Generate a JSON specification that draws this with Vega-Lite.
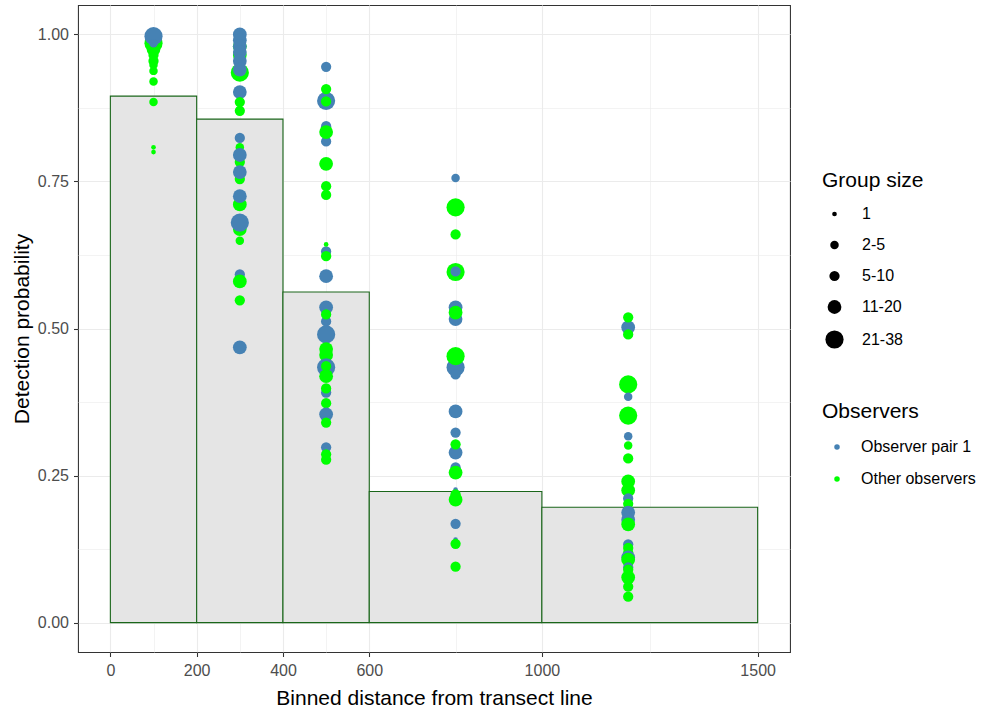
{
  "$schema": "https://vega.github.io/schema/vega-lite/v6.json",
  "width": 712,
  "height": 647,
  "autosize": "none",
  "padding": {"left": 78, "top": 5, "right": 197, "bottom": 61},
  "background": "white",
  "config": {
    "view": {"stroke": "#333333", "strokeWidth": 1.07},
    "font": "Liberation Sans"
  },
  "datasets": {
    "bins": [
      {"lo": 0, "hi": 200, "p": 0.895},
      {"lo": 200, "hi": 400, "p": 0.856},
      {"lo": 400, "hi": 600, "p": 0.562},
      {"lo": 600, "hi": 1000, "p": 0.223},
      {"lo": 1000, "hi": 1500, "p": 0.196}
    ],
    "pts": [
      {"d": 100, "p": 0.985, "obs": "Other observers", "g": "21-38"},
      {"d": 100, "p": 0.975, "obs": "Other observers", "g": "11-20"},
      {"d": 100, "p": 0.965, "obs": "Other observers", "g": "5-10"},
      {"d": 100, "p": 0.955, "obs": "Other observers", "g": "5-10"},
      {"d": 100, "p": 0.948, "obs": "Other observers", "g": "2-5"},
      {"d": 100, "p": 0.938, "obs": "Other observers", "g": "2-5"},
      {"d": 100, "p": 0.92, "obs": "Other observers", "g": "2-5"},
      {"d": 100, "p": 0.885, "obs": "Other observers", "g": "2-5"},
      {"d": 100, "p": 0.808, "obs": "Other observers", "g": "1"},
      {"d": 100, "p": 0.8, "obs": "Other observers", "g": "1"},
      {"d": 100, "p": 0.997, "obs": "Observer pair 1", "g": "21-38"},
      {"d": 100, "p": 0.985, "obs": "Observer pair 1", "g": "2-5"},

      {"d": 300, "p": 0.98, "obs": "Other observers", "g": "11-20"},
      {"d": 300, "p": 0.965, "obs": "Other observers", "g": "11-20"},
      {"d": 300, "p": 0.935, "obs": "Other observers", "g": "21-38"},
      {"d": 300, "p": 1.0, "obs": "Observer pair 1", "g": "11-20"},
      {"d": 300, "p": 0.99, "obs": "Observer pair 1", "g": "11-20"},
      {"d": 300, "p": 0.98, "obs": "Observer pair 1", "g": "11-20"},
      {"d": 300, "p": 0.97, "obs": "Observer pair 1", "g": "11-20"},
      {"d": 300, "p": 0.955, "obs": "Observer pair 1", "g": "11-20"},
      {"d": 300, "p": 0.94, "obs": "Observer pair 1", "g": "11-20"},
      {"d": 300, "p": 0.902, "obs": "Observer pair 1", "g": "11-20"},
      {"d": 300, "p": 0.885, "obs": "Other observers", "g": "5-10"},
      {"d": 300, "p": 0.87, "obs": "Other observers", "g": "5-10"},
      {"d": 300, "p": 0.808, "obs": "Other observers", "g": "2-5"},
      {"d": 300, "p": 0.824, "obs": "Observer pair 1", "g": "5-10"},
      {"d": 300, "p": 0.783, "obs": "Other observers", "g": "5-10"},
      {"d": 300, "p": 0.795, "obs": "Observer pair 1", "g": "11-20"},
      {"d": 300, "p": 0.754, "obs": "Other observers", "g": "5-10"},
      {"d": 300, "p": 0.766, "obs": "Observer pair 1", "g": "11-20"},
      {"d": 300, "p": 0.711, "obs": "Other observers", "g": "11-20"},
      {"d": 300, "p": 0.725, "obs": "Observer pair 1", "g": "11-20"},
      {"d": 300, "p": 0.669, "obs": "Other observers", "g": "11-20"},
      {"d": 300, "p": 0.68, "obs": "Observer pair 1", "g": "21-38"},
      {"d": 300, "p": 0.649, "obs": "Other observers", "g": "2-5"},
      {"d": 300, "p": 0.592, "obs": "Observer pair 1", "g": "5-10"},
      {"d": 300, "p": 0.58, "obs": "Other observers", "g": "11-20"},
      {"d": 300, "p": 0.548, "obs": "Other observers", "g": "5-10"},
      {"d": 300, "p": 0.468, "obs": "Observer pair 1", "g": "11-20"},

      {"d": 500, "p": 0.945, "obs": "Observer pair 1", "g": "5-10"},
      {"d": 500, "p": 0.887, "obs": "Observer pair 1", "g": "21-38"},
      {"d": 500, "p": 0.907, "obs": "Other observers", "g": "5-10"},
      {"d": 500, "p": 0.886, "obs": "Other observers", "g": "5-10"},
      {"d": 500, "p": 0.844, "obs": "Observer pair 1", "g": "5-10"},
      {"d": 500, "p": 0.818, "obs": "Observer pair 1", "g": "5-10"},
      {"d": 500, "p": 0.834, "obs": "Other observers", "g": "11-20"},
      {"d": 500, "p": 0.78, "obs": "Other observers", "g": "11-20"},
      {"d": 500, "p": 0.742, "obs": "Other observers", "g": "5-10"},
      {"d": 500, "p": 0.727, "obs": "Other observers", "g": "5-10"},
      {"d": 500, "p": 0.631, "obs": "Observer pair 1", "g": "5-10"},
      {"d": 500, "p": 0.643, "obs": "Other observers", "g": "1"},
      {"d": 500, "p": 0.623, "obs": "Other observers", "g": "5-10"},
      {"d": 500, "p": 0.589, "obs": "Observer pair 1", "g": "11-20"},
      {"d": 500, "p": 0.536, "obs": "Observer pair 1", "g": "11-20"},
      {"d": 500, "p": 0.512, "obs": "Observer pair 1", "g": "5-10"},
      {"d": 500, "p": 0.49, "obs": "Observer pair 1", "g": "21-38"},
      {"d": 500, "p": 0.524, "obs": "Other observers", "g": "5-10"},
      {"d": 500, "p": 0.465, "obs": "Other observers", "g": "11-20"},
      {"d": 500, "p": 0.455, "obs": "Other observers", "g": "11-20"},
      {"d": 500, "p": 0.434, "obs": "Observer pair 1", "g": "21-38"},
      {"d": 500, "p": 0.436, "obs": "Other observers", "g": "5-10"},
      {"d": 500, "p": 0.419, "obs": "Other observers", "g": "11-20"},
      {"d": 500, "p": 0.391, "obs": "Observer pair 1", "g": "5-10"},
      {"d": 500, "p": 0.398, "obs": "Other observers", "g": "5-10"},
      {"d": 500, "p": 0.373, "obs": "Other observers", "g": "5-10"},
      {"d": 500, "p": 0.354, "obs": "Observer pair 1", "g": "11-20"},
      {"d": 500, "p": 0.34, "obs": "Other observers", "g": "5-10"},
      {"d": 500, "p": 0.298, "obs": "Observer pair 1", "g": "5-10"},
      {"d": 500, "p": 0.286, "obs": "Other observers", "g": "5-10"},
      {"d": 500, "p": 0.277, "obs": "Other observers", "g": "5-10"},

      {"d": 800, "p": 0.756, "obs": "Observer pair 1", "g": "2-5"},
      {"d": 800, "p": 0.706, "obs": "Other observers", "g": "21-38"},
      {"d": 800, "p": 0.66, "obs": "Other observers", "g": "5-10"},
      {"d": 800, "p": 0.596, "obs": "Other observers", "g": "21-38"},
      {"d": 800, "p": 0.597, "obs": "Observer pair 1", "g": "5-10"},
      {"d": 800, "p": 0.536, "obs": "Observer pair 1", "g": "11-20"},
      {"d": 800, "p": 0.516, "obs": "Observer pair 1", "g": "11-20"},
      {"d": 800, "p": 0.527, "obs": "Other observers", "g": "11-20"},
      {"d": 800, "p": 0.434, "obs": "Observer pair 1", "g": "21-38"},
      {"d": 800, "p": 0.422, "obs": "Observer pair 1", "g": "5-10"},
      {"d": 800, "p": 0.453, "obs": "Other observers", "g": "21-38"},
      {"d": 800, "p": 0.359, "obs": "Observer pair 1", "g": "11-20"},
      {"d": 800, "p": 0.323, "obs": "Observer pair 1", "g": "5-10"},
      {"d": 800, "p": 0.289, "obs": "Observer pair 1", "g": "11-20"},
      {"d": 800, "p": 0.303, "obs": "Other observers", "g": "5-10"},
      {"d": 800, "p": 0.264, "obs": "Observer pair 1", "g": "5-10"},
      {"d": 800, "p": 0.255, "obs": "Other observers", "g": "11-20"},
      {"d": 800, "p": 0.226, "obs": "Observer pair 1", "g": "1"},
      {"d": 800, "p": 0.209, "obs": "Other observers", "g": "11-20"},
      {"d": 800, "p": 0.218, "obs": "Other observers", "g": "5-10"},
      {"d": 800, "p": 0.168, "obs": "Observer pair 1", "g": "5-10"},
      {"d": 800, "p": 0.141, "obs": "Observer pair 1", "g": "1"},
      {"d": 800, "p": 0.134, "obs": "Other observers", "g": "5-10"},
      {"d": 800, "p": 0.095, "obs": "Other observers", "g": "5-10"},

      {"d": 1200, "p": 0.502, "obs": "Observer pair 1", "g": "11-20"},
      {"d": 1200, "p": 0.519, "obs": "Other observers", "g": "5-10"},
      {"d": 1200, "p": 0.49, "obs": "Other observers", "g": "5-10"},
      {"d": 1200, "p": 0.405, "obs": "Other observers", "g": "21-38"},
      {"d": 1200, "p": 0.384, "obs": "Observer pair 1", "g": "2-5"},
      {"d": 1200, "p": 0.352, "obs": "Other observers", "g": "21-38"},
      {"d": 1200, "p": 0.317, "obs": "Observer pair 1", "g": "2-5"},
      {"d": 1200, "p": 0.301, "obs": "Other observers", "g": "2-5"},
      {"d": 1200, "p": 0.279, "obs": "Other observers", "g": "5-10"},
      {"d": 1200, "p": 0.24, "obs": "Other observers", "g": "11-20"},
      {"d": 1200, "p": 0.225, "obs": "Other observers", "g": "11-20"},
      {"d": 1200, "p": 0.211, "obs": "Observer pair 1", "g": "5-10"},
      {"d": 1200, "p": 0.202, "obs": "Other observers", "g": "5-10"},
      {"d": 1200, "p": 0.187, "obs": "Observer pair 1", "g": "11-20"},
      {"d": 1200, "p": 0.175, "obs": "Observer pair 1", "g": "11-20"},
      {"d": 1200, "p": 0.167, "obs": "Other observers", "g": "11-20"},
      {"d": 1200, "p": 0.133, "obs": "Observer pair 1", "g": "5-10"},
      {"d": 1200, "p": 0.127, "obs": "Other observers", "g": "5-10"},
      {"d": 1200, "p": 0.119, "obs": "Other observers", "g": "5-10"},
      {"d": 1200, "p": 0.111, "obs": "Observer pair 1", "g": "11-20"},
      {"d": 1200, "p": 0.107, "obs": "Other observers", "g": "11-20"},
      {"d": 1200, "p": 0.094, "obs": "Observer pair 1", "g": "5-10"},
      {"d": 1200, "p": 0.09, "obs": "Other observers", "g": "5-10"},
      {"d": 1200, "p": 0.077, "obs": "Other observers", "g": "11-20"},
      {"d": 1200, "p": 0.061, "obs": "Other observers", "g": "5-10"},
      {"d": 1200, "p": 0.044, "obs": "Other observers", "g": "5-10"}
    ]
  },
  "layer": [
    {
      "data": {"name": "bins"},
      "mark": {"type": "bar", "fill": "#E5E5E5", "stroke": "#1A661A", "strokeWidth": 1.1},
      "encoding": {
        "x": {
          "field": "lo", "type": "quantitative",
          "scale": {"domain": [-75, 1575], "nice": false, "zero": false},
          "axis": {
            "title": "Binned distance from transect line",
            "values": [0, 100, 200, 300, 400, 500, 600, 800, 1000, 1250, 1500],
            "format": "d",
            "labelExpr": "indexof([0,200,400,600,1000,1500], datum.value) >= 0 ? datum.label : ''",
            "domain": false,
            "grid": true,
            "gridColor": "#EBEBEB",
            "gridWidth": {"condition": {"test": "indexof([0,200,400,600,1000,1500], datum.value) >= 0", "value": 1.1}, "value": 0.6},
            "tickColor": "#333333",
            "tickOpacity": {"condition": {"test": "indexof([0,200,400,600,1000,1500], datum.value) >= 0", "value": 1}, "value": 0},
            "tickSize": 4.5,
            "tickWidth": 1.07,
            "labelColor": "#4D4D4D",
            "labelFontSize": 16,
            "labelPadding": 6,
            "titleFontSize": 21,
            "titleFontWeight": "normal",
            "titleColor": "#000000",
            "titlePadding": 9
          }
        },
        "x2": {"field": "hi"},
        "y": {
          "field": "p", "type": "quantitative",
          "scale": {"domain": [-0.05, 1.05], "nice": false, "zero": false},
          "axis": {
            "title": "Detection probability",
            "values": [0, 0.125, 0.25, 0.375, 0.5, 0.625, 0.75, 0.875, 1],
            "format": ".2f",
            "labelExpr": "datum.value*4 == floor(datum.value*4) ? datum.label : ''",
            "domain": false,
            "grid": true,
            "gridColor": "#EBEBEB",
            "gridWidth": {"condition": {"test": "datum.value*4 == floor(datum.value*4)", "value": 1.1}, "value": 0.6},
            "tickColor": "#333333",
            "tickOpacity": {"condition": {"test": "datum.value*4 == floor(datum.value*4)", "value": 1}, "value": 0},
            "tickSize": 4.5,
            "tickWidth": 1.07,
            "labelColor": "#4D4D4D",
            "labelFontSize": 16,
            "labelPadding": 5,
            "titleFontSize": 21,
            "titleFontWeight": "normal",
            "titleColor": "#000000",
            "titlePadding": 5
          }
        },
        "y2": {"datum": 0}
      }
    },
    {
      "data": {"name": "pts"},
      "mark": {"type": "point", "shape": "circle", "filled": true, "opacity": 1, "strokeWidth": 0},
      "encoding": {
        "x": {"field": "d", "type": "quantitative"},
        "y": {"field": "p", "type": "quantitative"},
        "color": {
          "field": "obs", "type": "nominal",
          "scale": {"domain": ["Observer pair 1", "Other observers"], "range": ["#4682B4", "#00FF00"]},
          "legend": {
            "title": "Observers",
            "orient": "none",
            "legendX": 744,
            "legendY": 396,
            "titleFontSize": 21,
            "titleFontWeight": "normal",
            "titleColor": "#000000",
            "titlePadding": 17,
            "labelFontSize": 16,
            "labelColor": "#000000",
            "symbolSize": 30,
            "symbolType": "circle",
            "symbolOffset": 7,
            "labelOffset": 16,
            "rowPadding": 16
          }
        },
        "size": {
          "field": "g", "type": "nominal",
          "scale": {"type": "ordinal", "domain": ["1", "2-5", "5-10", "11-20", "21-38"], "range": [22, 72, 105, 190, 330]},
          "legend": {
            "title": "Group size",
            "orient": "none",
            "legendX": 744,
            "legendY": 165,
            "titleFontSize": 21,
            "titleFontWeight": "normal",
            "titleColor": "#000000",
            "titlePadding": 15,
            "labelFontSize": 16,
            "labelColor": "#000000",
            "symbolFillColor": "#000000",
            "symbolStrokeColor": "#000000",
            "symbolStrokeWidth": 0,
            "symbolOffset": 3,
            "labelOffset": 18,
            "rowPadding": 15
          }
        }
      }
    }
  ]
}
